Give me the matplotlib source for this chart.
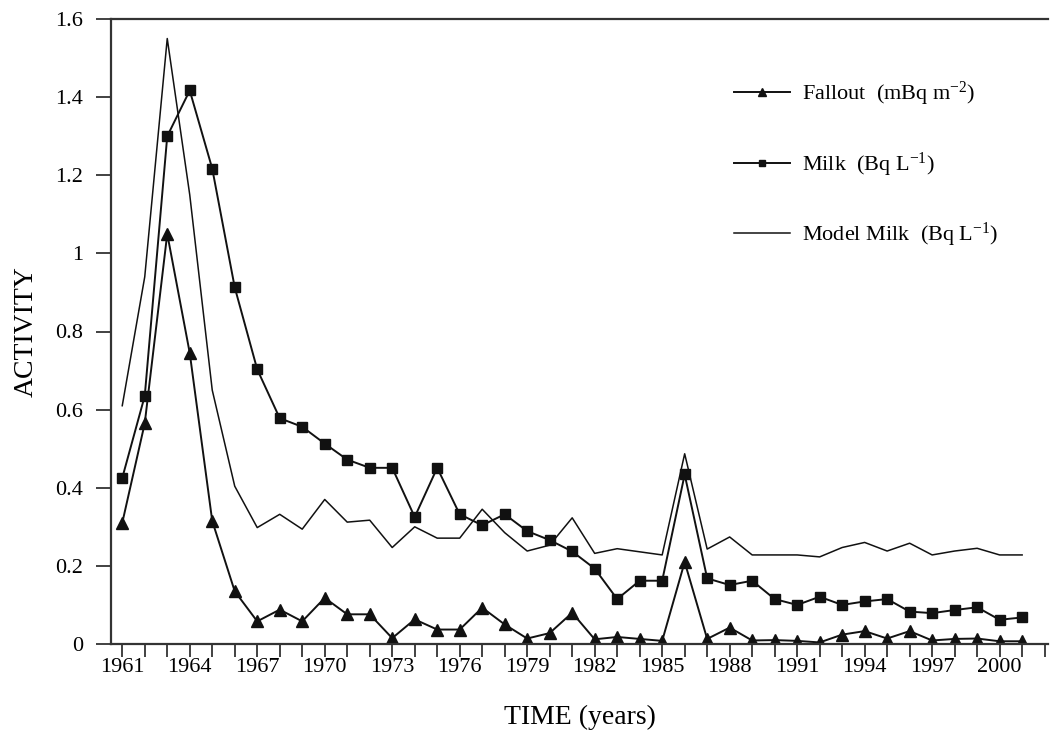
import matplotlib
matplotlib.use("Agg")
import matplotlib.pyplot as plt
from matplotlib.ticker import FixedLocator

plt.rcParams['font.family'] = ['Liberation Serif', 'DejaVu Serif']
plt.rcParams['mathtext.fontset'] = 'custom'
plt.rcParams['mathtext.rm'] = 'Liberation Serif'
plt.rcParams['mathtext.it'] = 'Liberation Serif'

years = list(range(1961, 2002))
fallout = [0.31, 0.565, 1.05, 0.745, 0.315, 0.135, 0.058, 0.088, 0.058, 0.118,
           0.076, 0.076, 0.015, 0.063, 0.037, 0.037, 0.093, 0.05, 0.014, 0.028,
           0.08, 0.012, 0.018, 0.013, 0.008, 0.21, 0.013, 0.042, 0.009, 0.01,
           0.008, 0.004, 0.024, 0.033, 0.014, 0.033, 0.009, 0.013, 0.014, 0.007,
           0.007]
milk = [0.425, 0.635, 1.3, 1.417, 1.217, 0.913, 0.703, 0.578, 0.556, 0.513,
        0.472, 0.451, 0.451, 0.325, 0.451, 0.332, 0.304, 0.332, 0.289, 0.266,
        0.237, 0.193, 0.115, 0.162, 0.162, 0.434, 0.168, 0.151, 0.162, 0.115,
        0.1, 0.121, 0.1, 0.109, 0.115, 0.083, 0.079, 0.087, 0.094, 0.062,
        0.068]
model_milk = [0.61, 0.94, 1.55, 1.15, 0.65, 0.404, 0.298, 0.332, 0.294, 0.37,
              0.312, 0.317, 0.247, 0.3, 0.271, 0.271, 0.345, 0.285, 0.238, 0.253,
              0.323, 0.232, 0.244, 0.236, 0.228, 0.487, 0.243, 0.274, 0.228, 0.228,
              0.228, 0.223, 0.247, 0.26, 0.238, 0.258, 0.228, 0.238, 0.245, 0.228,
              0.228]

label_years = list(range(1961, 2001, 3))
all_ticks = list(range(1961, 2003))
y_ticks = [0, 0.2, 0.4, 0.6, 0.8, 1.0, 1.2, 1.4, 1.6]
y_labels = ['0', '0.2', '0.4', '0.6', '0.8', '1', '1.2', '1.4', '1.6']

labels = [r'Fallout  (mBq m$^{\mathregular{-2}}$)',
          r'Milk  (Bq L$^{\mathregular{-1}}$)',
          r'Model Milk  (Bq L$^{\mathregular{-1}}$)']

fig = plt.figure(figsize=(10.5, 7.36), dpi=100)
ax = fig.add_axes([111/1050, 92/736, 937/1050, 625/736])

ink = '#111111'
ax.plot(years, fallout, color=ink, lw=1.4, marker='^', markersize=8.5,
        label=labels[0])
ax.plot(years, milk, color=ink, lw=1.4, marker='s', markersize=6.8,
        label=labels[1])
ax.plot(years, model_milk, color=ink, lw=1.1, label=labels[2])

ax.set_xlim(1960.5, 2002.15)
ax.set_ylim(0, 1.6)

ax.xaxis.set_major_locator(FixedLocator(label_years))
ax.xaxis.set_minor_locator(FixedLocator([y for y in all_ticks if y not in label_years]))
ax.set_xticklabels([str(y) for y in label_years])
ax.set_yticks(y_ticks)
ax.set_yticklabels(y_labels)

ax.tick_params(axis='x', which='both', direction='out', length=9, width=1.3,
               color='#333333', labelsize=16, pad=1)
ax.tick_params(axis='y', which='both', direction='out', length=11, width=1.3,
               color='#333333', labelsize=16, pad=9)

for side in ['left', 'bottom', 'top']:
    ax.spines[side].set_linewidth(1.6)
    ax.spines[side].set_color('#333333')
ax.spines['right'].set_visible(False)

ax.set_xlabel('TIME (years)', fontsize=20, labelpad=20)
ax.set_ylabel('ACTIVITY', fontsize=20, labelpad=12)

leg = ax.legend(loc='upper left', bbox_to_anchor=(0.644, 0.934), frameon=False,
                fontsize=16, handlelength=2.5, handletextpad=0.55,
                labelspacing=1.9, markerscale=0.7)

fig.savefig('out.png', dpi=100, facecolor='white')
